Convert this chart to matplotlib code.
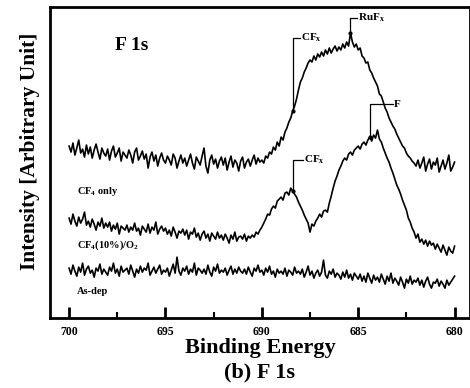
import numpy as np
import matplotlib
matplotlib.use("Agg")
import matplotlib.pyplot as plt
from matplotlib.ticker import MultipleLocator

# binding energy grid, 700 -> 680 eV in 0.1 eV steps
energy = np.round(np.arange(700.0, 679.95, -0.1), 1)

# spectra (arbitrary units, stacked offsets)
cf4_only = [
    172, 166, 175, 163, 170, 178, 165, 169, 161, 173,
    164, 171, 160, 168, 174, 166, 159, 170, 165, 162,
    169, 158, 167, 172, 161, 165, 170, 157, 166, 163,
    160, 168, 163, 155, 166, 170, 158, 162, 167, 159,
    164, 150, 161, 166, 157, 163, 152, 160, 165, 158,
    155, 162, 158, 153, 164, 160, 150, 157, 163, 155,
    160, 152, 158, 164, 155, 149, 161, 157, 153, 162,
    170, 152, 145, 158, 163, 154, 159, 150, 157, 161,
    153, 160, 148, 156, 162, 151, 158, 155, 147, 157,
    161, 150, 156, 159, 152, 158, 163, 154, 160, 156,
    158, 155, 162, 160, 166, 164, 171, 168, 176, 172,
    181, 178, 186, 190, 196, 200, 207, 212, 219, 228,
    236, 240, 246, 250, 255, 258, 256, 262, 258, 264,
    261, 266, 262, 268, 264, 270, 265, 269, 272, 267,
    271, 268, 274, 270, 276, 272, 285, 276, 271, 274,
    268, 270, 262, 260, 255, 256, 248, 245, 240, 236,
    232, 224, 222, 216, 210, 206, 200, 196, 192, 189,
    184, 180, 176, 172, 170, 165, 162, 160, 157, 155,
    152, 158, 150, 155, 161, 147, 154, 159, 149, 156,
    153, 160, 146, 152, 158, 149, 155, 163, 147, 151, 156,
]
cf4_o2 = [
    100, 94, 104, 97, 92, 101, 95, 99, 106, 93,
    97, 91, 99, 94, 88, 96, 92, 100, 90, 95,
    91, 96, 87, 93, 89, 95, 84, 92, 90, 88,
    93, 86, 91, 88, 95, 87, 90, 83, 92, 89,
    86, 94, 85, 91, 88, 96, 84, 89, 92, 87,
    90, 84, 88, 82, 91, 86, 80, 87, 85, 89,
    83, 88, 79, 86, 84, 90, 81, 85, 78, 84,
    87, 80, 84, 77, 85, 82, 79, 86, 80, 83,
    78, 84, 80, 75, 83, 79, 86, 77, 81, 82,
    79, 84, 77, 82, 80, 83, 81, 86, 84, 88,
    91, 95, 99, 104, 103, 109, 112, 110, 117, 119,
    121, 118, 125, 126, 123, 130, 127, 124, 121, 116,
    112, 108, 103, 99, 95, 86, 94, 92, 97, 100,
    104, 101, 107, 108, 106, 115, 122, 130, 137, 142,
    148, 152, 157, 160, 158, 164, 166, 163, 168, 170,
    172, 169, 174, 176, 173, 178, 181, 177, 183, 180,
    188, 179, 176, 170, 165, 160, 156, 150, 145, 139,
    133, 129, 124, 118, 113, 108, 100, 96, 90, 86,
    80, 84, 76, 79, 74, 78, 72, 77, 73, 75,
    69, 74, 70, 66, 73, 68, 63, 71, 67, 65, 72,
]
as_dep = [
    50, 44, 53, 47, 42, 51, 46, 55, 43, 49,
    52, 45, 48, 41, 50, 47, 54, 44, 49, 46,
    43, 51, 47, 55, 45, 49, 42, 52, 46, 48,
    50, 44, 53, 47, 41, 49, 45, 52, 46, 50,
    48, 55, 43, 47, 51, 45, 49, 53, 44, 48,
    46, 50, 42, 48, 54, 45, 61, 47, 43, 50,
    47, 52, 44, 49, 46, 55, 43, 50, 48, 45,
    49, 44, 53, 46, 42, 51, 47, 54, 45, 48,
    46, 50, 43, 48, 52, 44, 49, 45, 51, 47,
    45, 49, 44, 51, 46, 42, 50, 47, 53, 46,
    48, 43, 50, 46, 52, 44, 47, 41, 49, 45,
    47, 44, 50, 42, 48, 46, 43, 51, 45, 47,
    44, 49, 41, 46, 52, 43, 47, 40, 45, 48,
    42, 46, 58, 43, 40, 47, 44, 49, 41, 45,
    43, 39, 46, 41, 48, 40, 44, 38, 45, 42,
    39, 44, 37, 42, 36, 45, 40, 35, 43, 38,
    41, 36, 44, 39, 34, 42, 37, 45, 35, 40,
    37, 33, 41, 36, 30, 39, 35, 42, 34, 38,
    36, 40, 33, 38, 31, 37, 41, 34, 30, 36,
    35, 39, 32, 37, 34, 30, 38, 33, 36, 39, 42,
]

series_labels = ["CF$_4$ only", "CF$_4$(10%)/O$_2$", "As-dep"]
xticks = [700, 695, 690, 685, 680]

# peak markers: (series index, energy, label)
peak_energy = [688.4, 685.4, 688.4, 684.4]
peak_series = [0, 0, 1, 1]
peak_labels = ["CF$_x$", "RuF$_x$", "CF$_x$", "F"]

plt.rcParams["font.family"] = "Liberation Serif"
plt.rcParams["font.weight"] = "bold"
plt.rcParams["mathtext.fontset"] = "custom"
plt.rcParams["mathtext.rm"] = "Liberation Serif:bold"
plt.rcParams["mathtext.it"] = "Liberation Serif:bold"
plt.rcParams["mathtext.bf"] = "Liberation Serif:bold"

fig = plt.figure(figsize=(4.7, 3.88), dpi=100)
ax = fig.add_axes([0.106, 0.180, 0.894, 0.802])

spectra = [cf4_only, cf4_o2, as_dep]
for s in spectra:
    ax.plot(energy, s, color="black", lw=1.2)

ax.set_xlim(701.0, 679.2)
ax.set_ylim(0, 311)

# curve labels sit just under each spectrum
label_y = [127, 73, 27]
for lab, y in zip(series_labels, label_y):
    ax.text(699.6, y, lab, fontsize=7.5, fontweight="bold", va="center", ha="left")

ax.text(697.6, 273, "F 1s", fontsize=14, fontweight="bold", va="center", ha="left")

# bracket markers
tops = [280, 300, 158, 214]
arms = [0.4, 0.35, 0.55, 1.2]
for k in range(len(peak_energy)):
    e = peak_energy[k]
    s = spectra[peak_series[k]]
    yc = np.interp(e, energy[::-1], np.array(s)[::-1])
    ax.plot([e, e, e - arms[k]], [yc, tops[k], tops[k]], color="black", lw=0.9)
    ax.plot([e], [yc], "o", color="black", ms=2)
    ax.text(e - arms[k] - 0.05, tops[k], peak_labels[k], fontsize=8,
            fontweight="bold", va="center", ha="left")

ax.set_xticks(xticks)
ax.set_xticklabels([str(t) for t in xticks], fontsize=8.5, fontweight="bold")
ax.xaxis.set_minor_locator(MultipleLocator(2.5))
ax.tick_params(axis="x", which="major", direction="in", length=8, width=2, pad=6)
ax.tick_params(axis="x", which="minor", direction="in", length=4, width=1.5)
ax.set_yticks([])
for sp in ax.spines.values():
    sp.set_linewidth(2)

ax.set_xlabel("Binding Energy", fontsize=16, fontweight="bold", labelpad=0)
ax.set_ylabel("Intensity [Arbitrary Unit]", fontsize=15.5, fontweight="bold")
ax.yaxis.set_label_coords(-0.024, 0.535)
fig.text(0.553, 0.04, "(b) F 1s", fontsize=16, fontweight="bold", ha="center", va="center")

fig.savefig("out.png", dpi=100)
